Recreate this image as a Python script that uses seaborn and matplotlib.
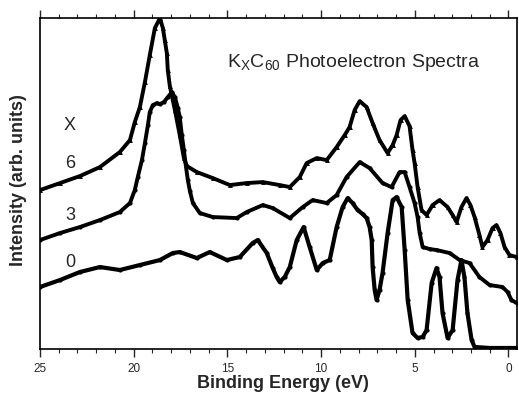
import matplotlib
matplotlib.use("Agg")
import matplotlib.pyplot as plt
import seaborn as sns
import numpy as np

# binding energy (eV) and intensity (arb. units) for each K_xC60 spectrum
energia_x6 = [25.0, 23.93, 22.87, 21.80, 20.74, 20.20, 19.94, 19.67, 19.40, 19.14, 18.87, 18.60,
              18.44, 18.34, 18.23, 18.18, 18.07, 17.80, 17.54, 17.32, 17.16, 16.63, 15.78, 14.87,
              13.97, 13.11, 12.21, 11.67, 11.14, 10.77, 10.23, 9.70, 9.17, 8.74, 8.48, 8.21, 7.94,
              7.57, 7.25, 6.88, 6.45, 6.18, 5.97, 5.76, 5.54, 5.28, 5.12, 5.01, 4.85, 4.64, 4.37,
              4.05, 3.68, 3.25, 2.98, 2.77, 2.51, 2.24, 2.03, 1.81, 1.55, 1.39, 1.12, 0.85, 0.64,
              0.43, 0.21, -0.05, -0.43]
intens_x6 = [159, 166, 173, 182, 197, 209, 227, 242, 267, 294, 321, 331,
             321, 309, 296, 279, 263, 239, 214, 191, 183, 177, 171, 164,
             166, 167, 164, 162, 172, 186, 191, 189, 202, 214, 222, 239, 248,
             242, 226, 209, 196, 204, 214, 229, 233, 223, 199, 186, 162, 139, 134,
             144, 149, 142, 134, 127, 142, 151, 144, 132, 114, 102, 109, 121, 124,
             116, 102, 94, 92]

energia_x3 = [25.0, 23.93, 22.87, 21.80, 20.74, 20.20, 19.94, 19.78, 19.56, 19.40, 19.24, 19.14,
              18.98, 18.76, 18.60, 18.39, 18.18, 17.96, 17.80, 17.64, 17.54, 17.43, 17.32, 17.22,
              17.11, 17.00, 16.84, 16.47, 15.78, 14.50, 13.97, 13.11, 12.58, 11.67, 10.98, 10.45,
              9.70, 9.17, 8.64, 7.94, 7.41, 6.72, 6.24, 5.81, 5.54, 5.28, 5.01, 4.85, 4.74, 4.58,
              4.21, 3.84, 3.14, 2.61, 2.08, 1.55, 1.01, 0.32, 0.05, -0.16, -0.43]
intens_x3 = [109, 116, 122, 129, 137, 146, 159, 172, 189, 206, 224, 237,
             244, 246, 245, 247, 252, 257, 252, 241, 232, 214, 199, 184,
             169, 158, 146, 136, 132, 131, 137, 144, 141, 131, 142, 149,
             146, 154, 172, 187, 181, 166, 162, 177, 177, 162, 146, 132, 116, 102,
             100, 99, 96, 89, 86, 72, 64, 62, 57, 49, 46]

energia_x0 = [25.0, 23.93, 22.87, 21.80, 20.74, 19.67, 18.60, 17.91, 17.54, 16.63, 15.94, 15.03,
              14.34, 13.65, 13.38, 12.90, 12.58, 12.37, 12.21, 11.94, 11.67, 11.30, 10.93, 10.61,
              10.23, 9.91, 9.54, 9.17, 8.85, 8.58, 8.32, 8.05, 7.78, 7.57, 7.41, 7.30, 7.25, 7.14,
              7.04, 6.88, 6.72, 6.45, 6.18, 5.97, 5.70, 5.54, 5.38, 5.12, 4.85, 4.58, 4.37, 4.10,
              3.84, 3.68, 3.52, 3.25, 2.98, 2.72, 2.51, 2.35, 2.19, 1.97, 1.81, 1.01, -0.43]
intens_x0 = [62, 69, 77, 82, 79, 84, 89, 96, 97, 91, 97, 89,
             92, 106, 109, 96, 81, 72, 67, 72, 82, 109, 122, 102,
             79, 86, 89, 122, 142, 151, 146, 139, 135, 131, 122, 109, 82, 59,
             49, 59, 76, 116, 149, 152, 142, 99, 49, 16, 11, 12, 19, 66,
             81, 72, 36, 11, 19, 69, 89, 72, 36, 9, 2, 1, 1]

rotulos_x = ['X', '6', '3', '0']
rotulos_y = [224, 186, 134, 87]

sns.set_style("ticks")
plt.rcParams['font.family'] = ['Liberation Sans', 'DejaVu Sans']

fig = plt.figure(figsize=(5.19, 3.95), dpi=100)
ax = fig.add_axes([0.077, 0.1165, 0.919, 0.8375])

sns.lineplot(x=energia_x6, y=intens_x6, ax=ax, color='black', lw=2.8,
             marker='^', markersize=3.5, markeredgewidth=0, estimator=None, sort=False)
sns.lineplot(x=energia_x3, y=intens_x3, ax=ax, color='black', lw=2.8,
             marker='o', markersize=3, markeredgewidth=0, estimator=None, sort=False)
sns.lineplot(x=energia_x0, y=intens_x0, ax=ax, color='black', lw=3,
             marker='o', markersize=3, markeredgewidth=0, estimator=None, sort=False)

ax.set_xlim(25, -0.45)
ax.set_ylim(0, 331)
ax.set_xticks([25, 20, 15, 10, 5, 0])
ax.set_xticks(np.arange(0, 26, 1), minor=True)
ax.set_yticks([])
ax.tick_params(axis='x', which='major', direction='out', length=6, width=1,
               top=True, labelsize=8.5, pad=4)
ax.tick_params(axis='x', which='minor', direction='out', length=3, width=0.8, top=True)
for s in ax.spines.values():
    s.set_linewidth(1.2)
    s.set_color('black')

ax.set_xlabel('Binding Energy (eV)', fontsize=13, fontweight='bold')
ax.xaxis.set_label_coords(0.509, -0.08)
ax.set_ylabel('Intensity (arb. units)', fontsize=13, fontweight='bold')
ax.yaxis.set_label_coords(-0.028, 0.51)

ax.text(15, 287, r'K$_\mathregular{X}$C$_\mathregular{60}$ Photoelectron Spectra',
        fontsize=14, va='center', ha='left')
for r, yy in zip(rotulos_x, rotulos_y):
    ax.text(23.4, yy, r, fontsize=13, ha='center', va='center')

fig.savefig('out.png', dpi=100)
